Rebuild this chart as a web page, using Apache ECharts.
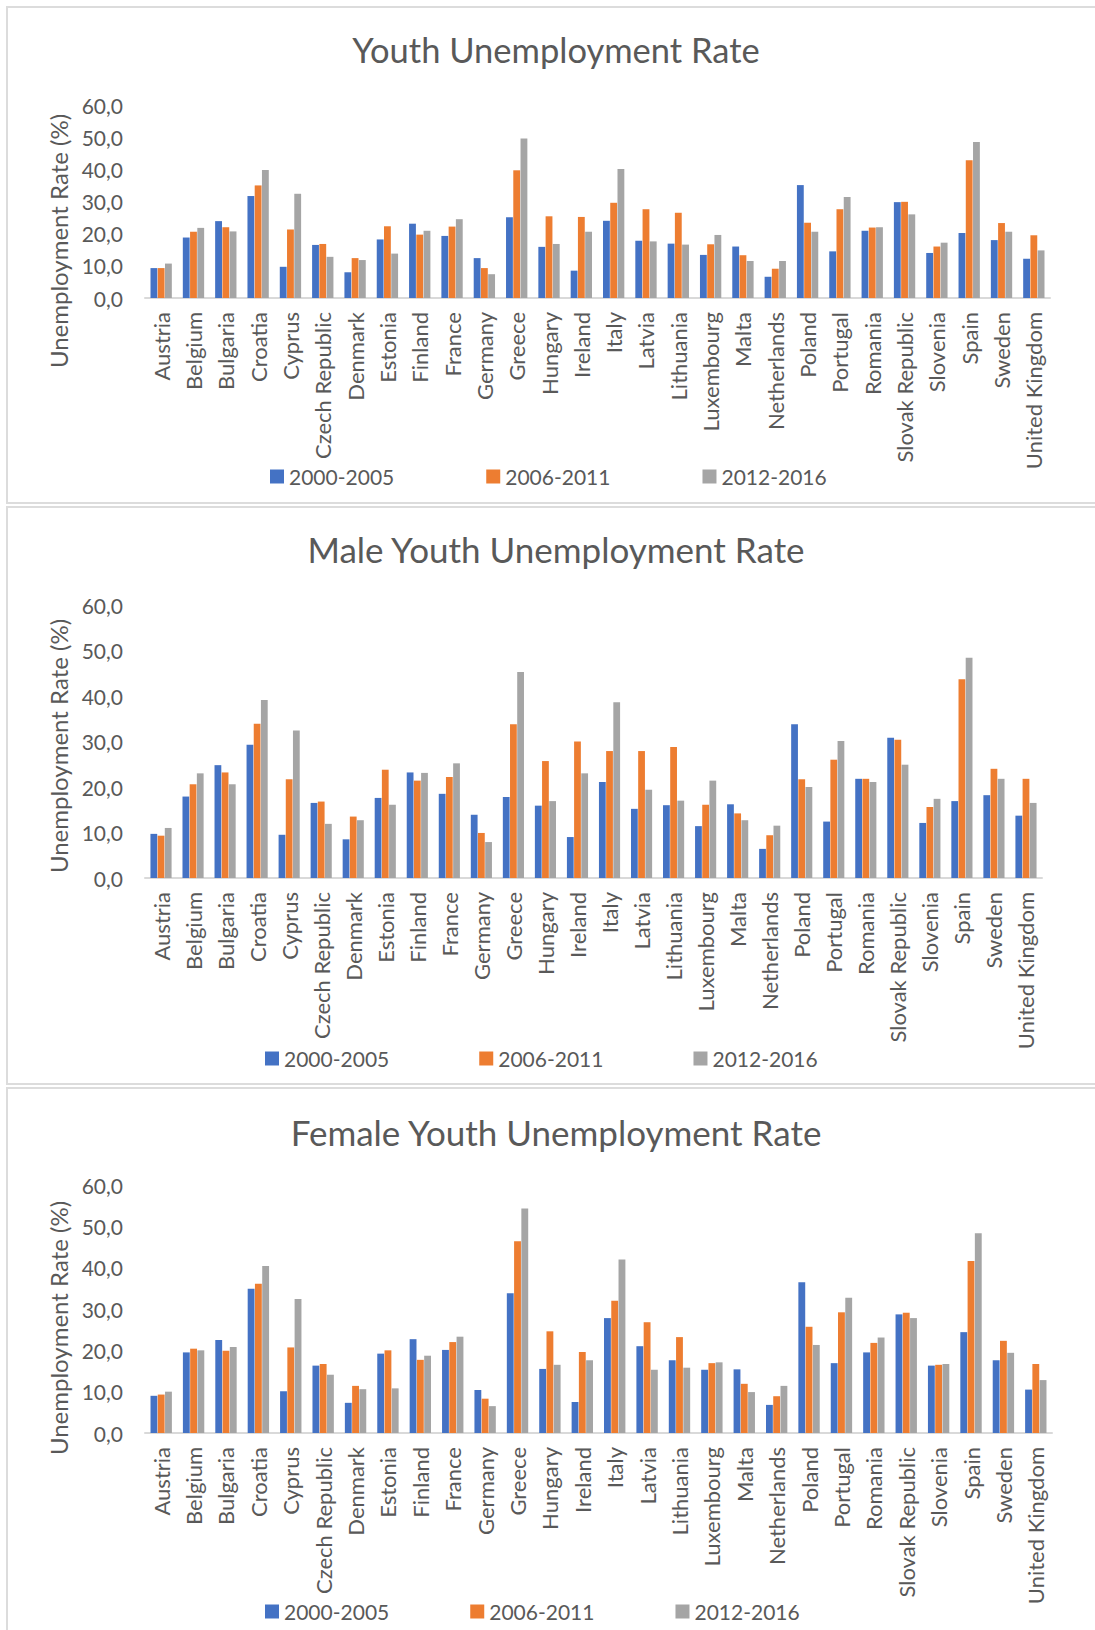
<!DOCTYPE html>
<html>
<head>
<meta charset="utf-8">
<script src="https://cdn.jsdelivr.net/npm/echarts@6/dist/echarts.min.js"></script>
<style>
  html, body { margin: 0; padding: 0; background: #fff; width: 1095px; height: 1630px; overflow: hidden; position: relative; }
  .chart { position: absolute; left: 0; width: 1095px; }
  .box { position: absolute; left: 6px; width: 1110px; border: 2px solid #dcdcdc; box-sizing: border-box; pointer-events: none; }
</style>
</head>
<body>
<div class="chart" id="c1" style="top:0px;height:505px;"></div>
<div class="chart" id="c2" style="top:505px;height:580px;"></div>
<div class="chart" id="c3" style="top:1085px;height:545px;"></div>
<div class="box" style="top:6px;height:498px;"></div>
<div class="box" style="top:506px;height:579px;"></div>
<div class="box" style="top:1087px;height:560px;"></div>
<script>
const categories = ['Austria','Belgium','Bulgaria','Croatia','Cyprus','Czech Republic','Denmark','Estonia','Finland','France','Germany','Greece','Hungary','Ireland','Italy','Latvia','Lithuania','Luxembourg','Malta','Netherlands','Poland','Portugal','Romania','Slovak Republic','Slovenia','Spain','Sweden','United Kingdom'];
const periods = ['2000-2005', '2006-2011', '2012-2016'];
const yTickLabels = ['0,0','10,0','20,0','30,0','40,0','50,0','60,0'];

// Youth Unemployment Rate
const total2000 = [9.3, 18.8, 23.9, 31.7, 9.7, 16.5, 8.0, 18.2, 23.1, 19.3, 12.4, 25.1, 15.9, 8.5, 24.0, 17.8, 16.9, 13.4, 16.0, 6.6, 35.1, 14.5, 20.9, 29.8, 14.0, 20.2, 18.0, 12.2];
const total2006 = [9.3, 20.6, 22.0, 35.0, 21.3, 16.8, 12.4, 22.3, 19.7, 22.2, 9.3, 39.7, 25.4, 25.2, 29.6, 27.6, 26.5, 16.7, 13.3, 9.1, 23.4, 27.6, 21.9, 29.9, 16.0, 42.8, 23.3, 19.5];
const total2012 = [10.7, 21.8, 20.7, 39.8, 32.4, 12.8, 11.8, 13.8, 20.9, 24.5, 7.4, 49.6, 16.8, 20.6, 40.1, 17.6, 16.6, 19.6, 11.5, 11.5, 20.6, 31.4, 22.0, 26.0, 17.2, 48.5, 20.6, 14.8];

// Male Youth Unemployment Rate
const male2000 = [9.7, 17.9, 24.8, 29.3, 9.5, 16.5, 8.5, 17.6, 23.2, 18.5, 13.9, 17.8, 15.9, 9.0, 21.1, 15.2, 16.0, 11.4, 16.2, 6.4, 33.8, 12.4, 21.8, 30.8, 12.1, 16.9, 18.2, 13.7];
const male2006 = [9.3, 20.6, 23.2, 33.9, 21.7, 16.8, 13.5, 23.8, 21.4, 22.2, 9.9, 33.8, 25.7, 30.0, 27.9, 27.9, 28.8, 16.1, 14.2, 9.4, 21.7, 26.0, 21.8, 30.4, 15.6, 43.7, 24.0, 21.8];
const male2012 = [11.0, 23.0, 20.6, 39.1, 32.4, 11.9, 12.7, 16.1, 23.1, 25.2, 7.9, 45.3, 16.9, 23.0, 38.6, 19.4, 17.0, 21.4, 12.7, 11.5, 20.0, 30.1, 21.1, 24.9, 17.4, 48.4, 21.8, 16.5];

// Female Youth Unemployment Rate
const female2000 = [9.0, 19.5, 22.5, 34.9, 10.1, 16.3, 7.3, 19.2, 22.7, 20.1, 10.4, 33.8, 15.5, 7.5, 27.8, 21.0, 17.6, 15.3, 15.4, 6.8, 36.5, 16.9, 19.5, 28.7, 16.3, 24.4, 17.6, 10.5];
const female2006 = [9.3, 20.4, 19.9, 36.1, 20.7, 16.7, 11.4, 20.0, 17.7, 22.0, 8.3, 46.4, 24.6, 19.6, 32.0, 26.8, 23.2, 16.9, 11.9, 8.9, 25.7, 29.2, 21.8, 29.1, 16.5, 41.6, 22.3, 16.7];
const female2012 = [10.0, 20.0, 20.8, 40.4, 32.4, 14.1, 10.6, 10.8, 18.7, 23.3, 6.5, 54.3, 16.5, 17.6, 42.0, 15.3, 15.8, 17.1, 9.9, 11.4, 21.3, 32.7, 23.1, 27.8, 16.7, 48.3, 19.4, 12.8];

const colors = ['#4472C4', '#ED7D31', '#A5A5A5'];
const textColor = '#595959';
const FONT = 'Lato, "Open Sans", sans-serif';

function makeOption(cfg) {
  return {
    animation: false,
    color: colors,
    textStyle: { fontFamily: FONT },
    title: {
      text: cfg.title,
      left: 551,
      textAlign: 'center',
      top: cfg.titleTop,
      textStyle: { fontFamily: FONT, fontSize: cfg.titleSize, fontWeight: 'normal', color: textColor }
    },
    legend: {
      data: periods,
      left: cfg.legendLeft,
      top: cfg.legendTop,
      itemGap: cfg.legendGap,
      itemWidth: 14,
      itemHeight: 14,
      icon: 'rect',
      textStyle: { fontFamily: FONT, fontSize: 21, color: textColor }
    },
    grid: { left: 145, top: cfg.gridTop, width: cfg.gridWidth, height: cfg.gridHeight, containLabel: false },
    xAxis: {
      type: 'category',
      data: categories,
      axisTick: { show: false },
      axisLine: { lineStyle: { color: '#d9d9d9', width: 2 } },
      axisLabel: { rotate: 90, interval: 0, margin: 14, fontFamily: FONT, fontSize: 22, color: textColor }
    },
    yAxis: {
      type: 'value',
      min: 0, max: 60, interval: 10,
      splitLine: { show: false },
      axisLine: { show: false },
      axisTick: { show: false },
      axisLabel: {
        margin: 22, fontFamily: FONT, fontSize: 21, color: textColor,
        formatter: v => yTickLabels[Math.round(v / 10)]
      }
    },
    graphic: [{
      type: 'text',
      x: 58,
      y: cfg.yTitleY,
      rotation: Math.PI / 2,
      style: {
        text: 'Unemployment Rate (%)',
        fill: textColor,
        font: '24px ' + FONT,
        fontSize: 24,
        fontFamily: FONT,
        textAlign: 'center',
        textVerticalAlign: 'middle'
      }
    }],
    series: cfg.data.map((d, i) => ({
      name: periods[i],
      type: 'bar',
      data: d,
      barGap: '6%',
      barCategoryGap: '34%',
      itemStyle: { color: colors[i] }
    }))
  };
}

const configs = [
  { id: 'c1', title: 'Youth Unemployment Rate', titleSize: 34.5, titleTop: 27, gridTop: 105, gridWidth: 905, gridHeight: 193,
    legendLeft: 265, legendTop: 461, legendGap: 92, yTitleY: 241, data: [total2000, total2006, total2012] },
  { id: 'c2', title: 'Male Youth Unemployment Rate', titleSize: 35, titleTop: 21, gridTop: 100, gridWidth: 897, gridHeight: 273,
    legendLeft: 260, legendTop: 538, legendGap: 90, yTitleY: 241, data: [male2000, male2006, male2012] },
  { id: 'c3', title: 'Female Youth Unemployment Rate', titleSize: 35, titleTop: 24, gridTop: 100, gridWidth: 907, gridHeight: 248,
    legendLeft: 260, legendTop: 511, legendGap: 81, yTitleY: 243, data: [female2000, female2006, female2012] }
];

configs.forEach(cfg => {
  const chart = echarts.init(document.getElementById(cfg.id), null, { renderer: 'svg' });
  chart.setOption(makeOption(cfg));
});
</script>
</body>
</html>
